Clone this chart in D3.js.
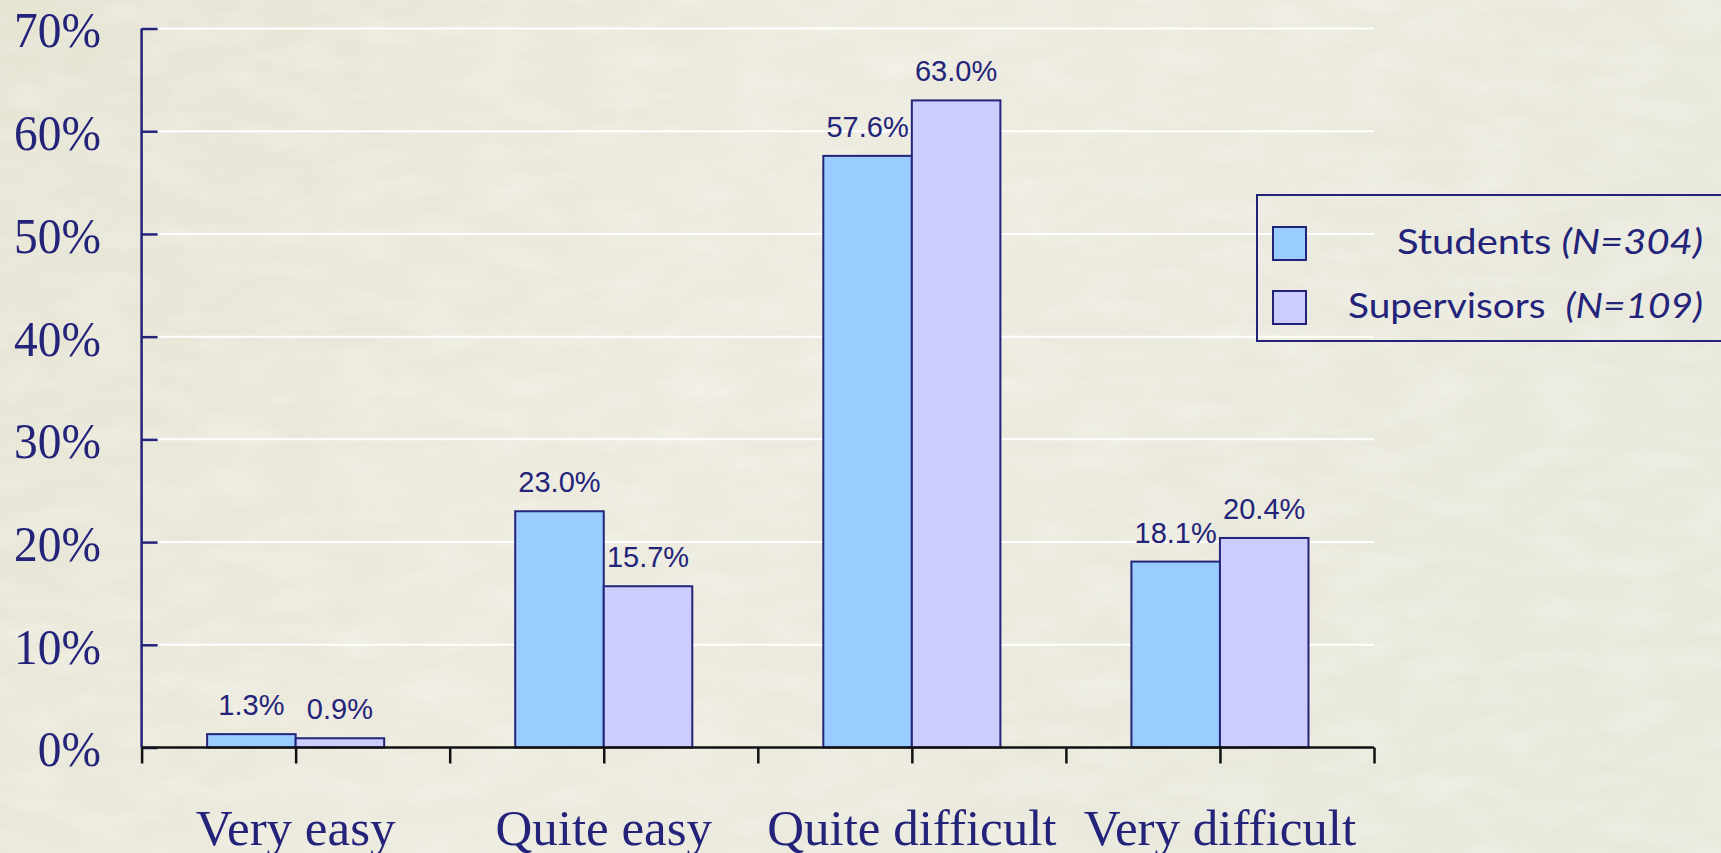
<!DOCTYPE html>
<html><head><meta charset="utf-8">
<script src="https://cdn.jsdelivr.net/npm/d3@7"></script>
<style>
html,body{margin:0;padding:0;overflow:hidden;background:#ecEAde;}
svg{display:block;}
</style></head>
<body>
<svg id="chart" width="1721" height="853"></svg>
<script>
const categories = ["Very easy", "Quite easy", "Quite difficult", "Very difficult"];
const seriesNames = ["Students", "Supervisors"];
const seriesN = ["(N=304)", "(N=109)"];
const students = [1.3, 23.0, 57.6, 18.1];
const supervisors = [0.9, 15.7, 63.0, 20.4];
const yTicks = [0, 10, 20, 30, 40, 50, 60, 70];

const colors = ["#99ccff", "#ccccff"];
const navy = "#23237a";

const svg = d3.select("#chart");
const W = 1721, H = 853;

// background
const defs = svg.append("defs");
const grad = defs.append("linearGradient").attr("id","bg").attr("x1","0").attr("y1","0").attr("x2","1").attr("y2","0.3");
grad.append("stop").attr("offset","0").attr("stop-color","#e6e4d3");
grad.append("stop").attr("offset","0.5").attr("stop-color","#edebdf");
grad.append("stop").attr("offset","1").attr("stop-color","#e9e8dc");
const filt = defs.append("filter").attr("id","tex").attr("x","0").attr("y","0").attr("width","1").attr("height","1");
filt.append("feTurbulence").attr("type","fractalNoise").attr("baseFrequency","0.015 0.04").attr("numOctaves","3").attr("seed","4").attr("result","n");
filt.append("feColorMatrix").attr("in","n").attr("type","matrix")
  .attr("values","0 0 0 0 1  0 0 0 0 1  0 0 0 0 0.97  0 0 0 1.2 -0.45");
svg.append("rect").attr("width",W).attr("height",H).attr("fill","url(#bg)");
svg.append("rect").attr("width",W).attr("height",H).attr("fill","#fff").attr("filter","url(#tex)").attr("opacity",0.45);

const x0 = 141.6, x1 = 1374, yTop = 28.5, yBot = 747.5;
const x = d3.scaleBand().domain(categories).range([x0, x1]).padding(0);
const xs = d3.scaleBand().domain(seriesNames).range([0, x.bandwidth()]).paddingInner(0).paddingOuter(0.74);
const y = d3.scaleLinear().domain([0, 70]).range([yBot, yTop]);

// gridlines
svg.append("g").selectAll("line").data(yTicks.filter(d => d > 0)).join("line")
  .attr("x1", x0).attr("x2", x1)
  .attr("y1", d => y(d)).attr("y2", d => y(d))
  .attr("stroke", "#ffffff").attr("stroke-width", 2);

// bars
const data = categories.map((c, i) => ({cat: c, vals: [students[i], supervisors[i]]}));
const groups = svg.append("g").selectAll("g").data(data).join("g")
  .attr("transform", d => `translate(${x(d.cat)},0)`);
groups.selectAll("rect").data(d => d.vals.map((v, j) => ({s: seriesNames[j], v, j}))).join("rect")
  .attr("x", d => xs(d.s)).attr("width", xs.bandwidth())
  .attr("y", d => y(d.v)).attr("height", d => yBot - y(d.v))
  .attr("fill", d => colors[d.j]).attr("stroke", navy).attr("stroke-width", 2);
groups.selectAll("text").data(d => d.vals.map((v, j) => ({s: seriesNames[j], v, j}))).join("text")
  .attr("x", d => xs(d.s) + xs.bandwidth() / 2)
  .attr("y", d => y(d.v) - 19)
  .attr("text-anchor", "middle")
  .attr("font-family", "'Liberation Sans', Arial, sans-serif")
  .attr("font-size", 29).attr("fill", navy)
  .text(d => d.v.toFixed(1) + "%");

// y axis
const yAxis = d3.axisRight(y).tickValues(yTicks).tickSize(16).tickFormat("");
const ya = svg.append("g").attr("transform", `translate(${x0},0)`).call(yAxis);
ya.selectAll("path.domain").attr("stroke", navy).attr("stroke-width", 2.5).attr("d", `M0,${yTop}V${yBot}`);
ya.selectAll(".tick line").attr("stroke", navy).attr("stroke-width", 2.5);
svg.append("g").selectAll("text").data(yTicks).join("text")
  .attr("x", 101).attr("y", d => y(d) + 19)
  .attr("text-anchor", "end")
  .attr("font-family", "'Liberation Serif', 'Times New Roman', serif")
  .attr("font-size", 51).attr("fill", navy)
  .attr("transform", `translate(101,0) scale(0.93,1) translate(-101,0)`)
  .text(d => d + "%");

// x axis with ticks at band edges and centers
const tickPos = [];
categories.forEach(c => { tickPos.push(x(c)); tickPos.push(x(c) + x.bandwidth() / 2); });
tickPos.push(x1);
const xPos = d3.scaleLinear().domain([x0, x1]).range([x0, x1]);
const xAxis = d3.axisBottom(xPos).tickValues(tickPos).tickSize(16).tickFormat("");
const xa = svg.append("g").attr("transform", `translate(0,${yBot})`).call(xAxis);
xa.selectAll("path.domain").attr("stroke", "#111").attr("stroke-width", 2.5).attr("d", `M${x0},0H${x1}`);
xa.selectAll(".tick line").attr("stroke", "#111").attr("stroke-width", 2.5);
svg.append("g").selectAll("text").data(categories).join("text")
  .attr("x", d => x(d) + x.bandwidth() / 2).attr("y", 845)
  .attr("text-anchor", "middle")
  .attr("font-family", "'Liberation Serif', 'Times New Roman', serif")
  .attr("font-size", 51).attr("fill", navy)
  .text(d => d);

// legend
const lg = svg.append("g");
lg.append("rect").attr("x", 1257).attr("y", 195).attr("width", 520).attr("height", 146)
  .attr("fill", "none").attr("stroke", navy).attr("stroke-width", 2);
const legY = [243, 307];
const legStart = [1397, 1348];
seriesNames.forEach((s, i) => {
  lg.append("rect").attr("x", 1273).attr("y", legY[i] - 16).attr("width", 33).attr("height", 33)
    .attr("fill", colors[i]).attr("stroke", navy).attr("stroke-width", 2);
  const t = lg.append("text").attr("x", legStart[i]).attr("y", legY[i] + 11)
    .attr("font-family", "'Lato', 'Open Sans', sans-serif")
    .attr("font-size", 34).attr("fill", navy).attr("xml:space", "preserve")
    .attr("textLength", 1703 - legStart[i]).attr("lengthAdjust", "spacingAndGlyphs");
  t.append("tspan").text(s + (i === 1 ? "  " : " "));
  t.append("tspan").attr("font-style", "italic").text(seriesN[i]);
});
</script>
</body></html>
